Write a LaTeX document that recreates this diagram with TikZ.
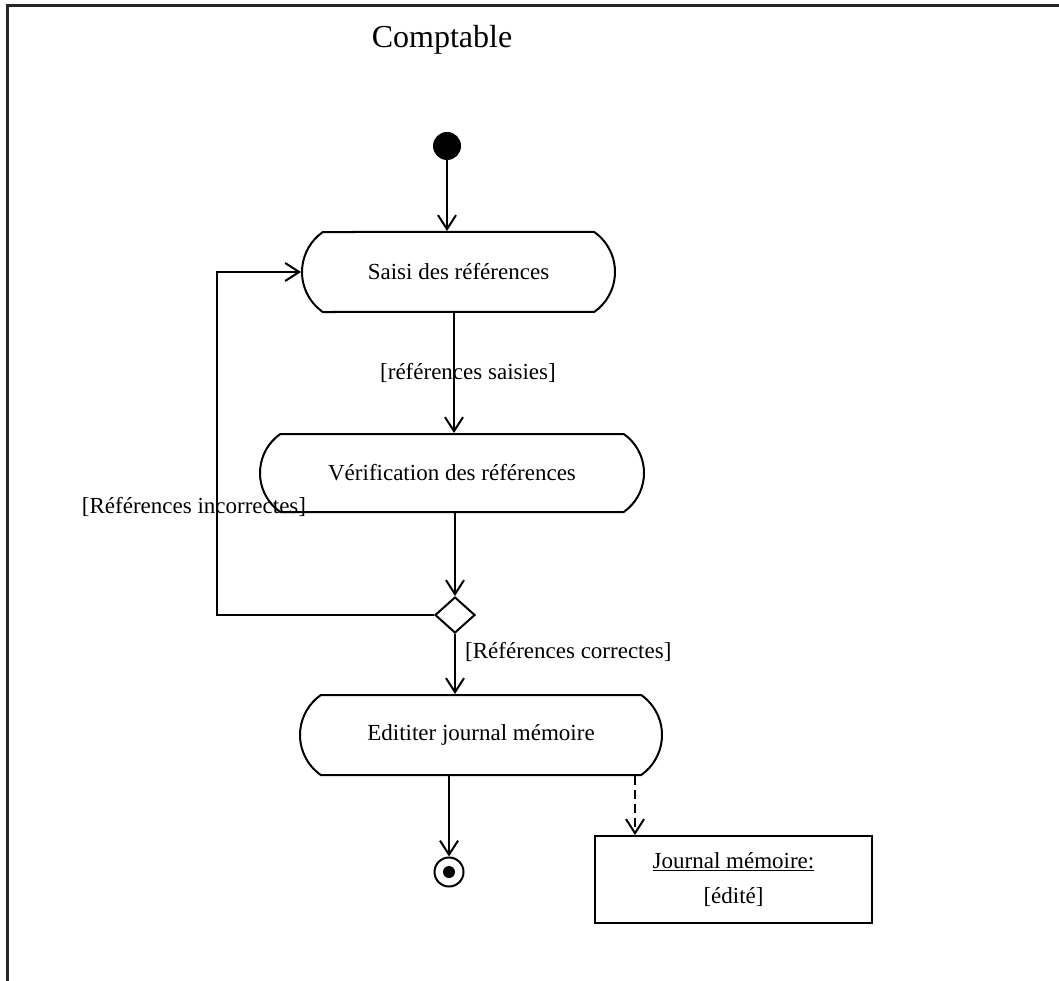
\documentclass[tikz,border=0pt]{standalone}
\usepackage{fontspec}
\setmainfont{Liberation Serif}
\usetikzlibrary{arrows.meta,shapes.misc,shapes.geometric}
\begin{document}
\begin{tikzpicture}[x=1pt,y=-1pt,
  txt/.style={font=\fontsize{23}{28}\selectfont, inner sep=0pt},
  activity/.style={draw, line width=2pt, rounded rectangle, rounded rectangle arc length=110,
    inner sep=0pt, font=\fontsize{23}{28}\selectfont},
  arr/.style={-{Straight Barb[length=14pt,width=18pt,line width=2pt]}, line width=2pt},
  dashline/.style={dash pattern=on 9pt off 5pt},
  frameline/.style={line width=3pt, draw=black!85}
]
\useasboundingbox (0,0) rectangle (1059,981);
% frame
\draw[frameline] (1059,6) -- (7,6) -- (7,981);
% title
\node[font=\fontsize{32}{38}\selectfont, inner sep=0pt] (title) at (442,40) {Comptable};
% nodes
\node[circle, fill=black, minimum size=28pt, inner sep=0pt] (init) at (447,146) {};
\node[activity, minimum width=313pt, minimum height=80pt] (saisi) at (458.5,272) {Saisi des références};
\node[activity, minimum width=384pt, minimum height=78pt] (verif) at (452,473) {Vérification des références};
\node[diamond, draw, line width=2pt, minimum width=40pt, minimum height=36pt, inner sep=0pt] (dec) at (455,615) {};
\node[activity, minimum width=362pt, minimum height=80pt] (edit) at (481,735) {Edititer journal mémoire};
\node[circle, draw, line width=2pt, minimum size=29pt, inner sep=0pt,
  path picture={\fill[black] (path picture bounding box.center) circle (6pt);}] (fin) at (449,872) {};
\node[draw, line width=2pt, minimum width=277pt, minimum height=87pt, align=center,
  font=\fontsize{23}{35}\selectfont, inner sep=0pt] (obj) at (733.5,879.5) {\underline{Journal mémoire:}\\{[édité]}};
% coordinates
\coordinate (lp) at (217,272);
\coordinate (c1) at (454,0);
\coordinate (c2) at (635,0);
% connectors
\draw[arr] (init) -- (init |- saisi.north);
\draw[arr] (saisi.south -| c1) -- (verif.north -| c1);
\draw[arr] (verif.south -| dec.north) -- (dec.north);
\draw[arr] (dec.south) -- (dec.south |- edit.north);
\draw[arr] (dec.west) -| (lp) -- (saisi.west);
\draw[arr] (fin.north |- edit.south) -- (fin.north);
\draw[arr, dashline] (edit.south -| c2) -- (obj.north -| c2);
% guard labels
\node[txt] (g1) at (468,373) {[références saisies]};
\node[txt] (g2) at (194,507) {[Références incorrectes]};
\node[txt, anchor=west] (g3) at (465,652) {[Références correctes]};
\end{tikzpicture}
\end{document}
